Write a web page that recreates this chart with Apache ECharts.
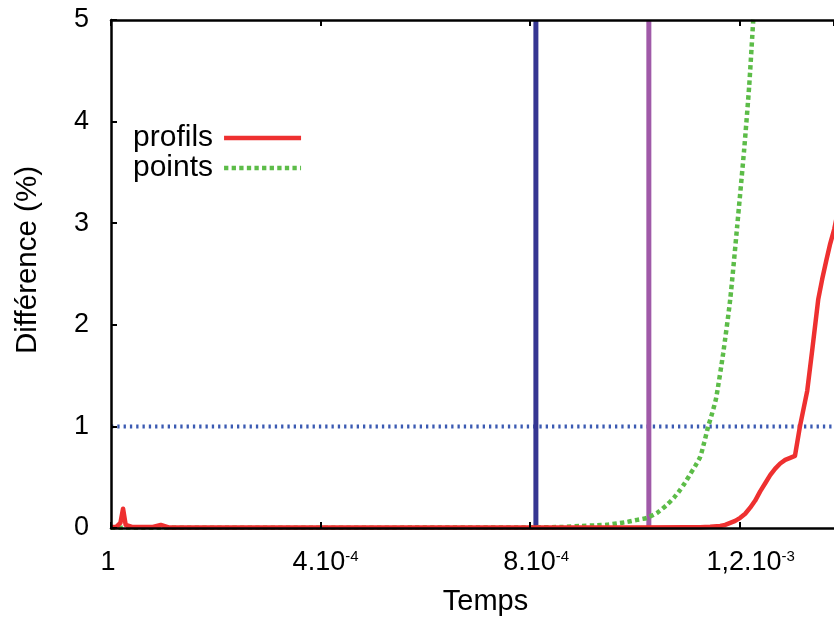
<!DOCTYPE html>
<html>
<head>
<meta charset="utf-8">
<script src="https://cdn.jsdelivr.net/npm/echarts@6/dist/echarts.min.js"></script>
<style>html,body{margin:0;padding:0;background:#fff}#c{width:834px;height:621px}</style>
</head>
<body>
<div id="c"></div>
<script>
// ---- data ----
const xTicks = [0, 4e-4, 8e-4, 1.2e-3];
const xTickLabels = ['1', '4.10{sup|-4}', '8.10{sup|-4}', '1,2.10{sup|-3}'];
const yTicks = [0, 1, 2, 3, 4, 5];

const profilsX = [0, 1.0e-5, 1.8e-5, 2.3e-5, 2.8e-5, 4e-5, 8e-5, 9.5e-5, 1.1e-4, 2e-4, 4e-4, 6e-4, 8e-4, 1.0e-3, 1.1e-3,
  1.1246e-3, 1.1437e-3, 1.1628e-3, 1.1723e-3, 1.1819e-3, 1.1914e-3, 1.2010e-3, 1.2105e-3, 1.2200e-3, 1.2296e-3,
  1.2391e-3, 1.2487e-3, 1.2582e-3, 1.2678e-3, 1.2773e-3, 1.2869e-3, 1.2964e-3, 1.3055e-3, 1.3150e-3, 1.3289e-3,
  1.3384e-3, 1.3499e-3, 1.3575e-3, 1.3652e-3, 1.3728e-3, 1.3804e-3, 1.3950e-3];
const profilsY = [0.01, 0.01, 0.05, 0.19, 0.03, 0.01, 0.01, 0.03, 0.005, 0.005, 0.005, 0.005, 0.005, 0.006, 0.007,
  0.008, 0.012, 0.02, 0.03, 0.05, 0.07, 0.1, 0.14, 0.2, 0.27,
  0.36, 0.44, 0.52, 0.585, 0.635, 0.67, 0.69, 0.71, 1.0, 1.35,
  1.75, 2.25, 2.45, 2.63, 2.8, 2.94, 3.3];

const pointsX = [0, 2e-4, 4e-4, 6e-4, 8e-4, 0.8630e-3, 0.8955e-3, 0.9241e-3, 0.9470e-3, 0.9661e-3, 0.9852e-3, 1.0043e-3,
  1.0234e-3, 1.0425e-3, 1.0616e-3, 1.0749e-3, 1.0864e-3, 1.0950e-3, 1.1055e-3, 1.1150e-3, 1.1246e-3, 1.1322e-3,
  1.1399e-3, 1.1475e-3, 1.1551e-3, 1.1685e-3, 1.1819e-3, 1.1952e-3, 1.2086e-3, 1.2181e-3, 1.2258e-3, 1.2391e-3];
const pointsY = [0.003, 0.003, 0.003, 0.004, 0.006, 0.01, 0.02, 0.026, 0.032, 0.045, 0.06, 0.08,
  0.1, 0.15, 0.23, 0.3, 0.375, 0.44, 0.53, 0.61, 0.7, 0.84,
  1.0, 1.13, 1.28, 1.72, 2.25, 2.97, 3.73, 4.35, 4.99, 6.0];

const seuil = 1;                 // horizontal dotted line level
const vLineBlue = 8.11e-4;       // vertical blue line
const vLinePurple = 1.0266e-3;   // vertical purple line

const X_MIN = 0, X_MAX = 1.38e-3, X_INT = 4e-4;
const Y_MIN = 0, Y_MAX = 5;

const zip = (a, b) => a.map((v, i) => [v, b[i]]);

const chart = echarts.init(document.getElementById('c'), null, {renderer: 'canvas'});
const FONT = 'Liberation Sans, Arial, Helvetica, sans-serif';

// horizontal nudges (px) of tick labels, style only
const labelShift = [-3, 5, 6, 11];
function xLabel(v) {
  const i = xTicks.findIndex(t => Math.abs(t - v) < 1e-9);
  if (i < 0) return '';
  const s = labelShift[i];
  if (s > 0) return '{p' + s + '|}' + xTickLabels[i];
  if (s < 0) return xTickLabels[i] + '{p' + (-s) + '|}';
  return xTickLabels[i];
}
const rich = {sup: {fontFamily: FONT, fontSize: 15, color: '#000', padding: [0, 0, 12, 0]}};
[3, 5, 6, 11].forEach(s => { rich['p' + s] = {width: 2 * s}; });

// legend icons
const LW = 77, LH = 4.5;
const solidIcon = 'path://M0,0H' + LW + 'V' + LH + 'H0Z';
let dotPath = '';
for (let x = 0; x < LW; x += 7.6) {
  const w = Math.min(4.3, LW - x);
  dotPath += 'M' + x.toFixed(2) + ',0h' + w.toFixed(2) + 'v' + LH + 'h-' + w.toFixed(2) + 'Z';
}
const dottedIcon = 'path://' + dotPath;

chart.setOption({
  animation: false,
  backgroundColor: '#fff',
  grid: {left: 111, right: 0, top: 20, bottom: 91, containLabel: false},
  legend: {
    data: [{name: 'profils', icon: solidIcon}, {name: 'points', icon: dottedIcon}],
    orient: 'vertical',
    left: 128, top: 118,
    align: 'right',
    itemWidth: LW, itemHeight: LH, itemGap: 0,
    itemStyle: {borderWidth: 0},
    textStyle: {fontFamily: FONT, fontSize: 30, lineHeight: 29, color: '#000', padding: [0, 6, 0, 0]}
  },
  xAxis: [{
    type: 'value', min: X_MIN, max: X_MAX, interval: X_INT,
    name: 'Temps', nameLocation: 'middle', nameGap: 59,
    nameTextStyle: {fontFamily: FONT, fontSize: 29, color: '#000', padding: [0, 0, 0, 26]},
    axisLine: {show: true, onZero: false, lineStyle: {color: '#000', width: 2.5}},
    axisTick: {show: true, inside: true, length: 6, lineStyle: {color: '#000', width: 2}},
    axisLabel: {
      formatter: xLabel, margin: 21, fontFamily: FONT, fontSize: 27, color: '#000',
      showMaxLabel: false, rich: rich
    },
    splitLine: {show: false}, z: 5
  }, {
    type: 'value', min: X_MIN, max: X_MAX, interval: X_INT, position: 'top',
    axisLine: {show: true, onZero: false, lineStyle: {color: '#000', width: 2.5}},
    axisTick: {show: true, inside: true, length: 6, lineStyle: {color: '#000', width: 2}},
    axisLabel: {show: false}, splitLine: {show: false}, z: 5
  }],
  yAxis: [{
    type: 'value', min: Y_MIN, max: Y_MAX, interval: 1,
    name: 'Différence (%)', nameLocation: 'middle', nameGap: 68,
    nameTextStyle: {fontFamily: FONT, fontSize: 29.5, color: '#000', padding: [0, 0, 0, 28]},
    axisLine: {show: true, onZero: false, lineStyle: {color: '#000', width: 2.5}},
    axisTick: {show: true, inside: true, length: 6, lineStyle: {color: '#000', width: 2}},
    axisLabel: {margin: 22, fontFamily: FONT, fontSize: 27, color: '#000'},
    splitLine: {show: false}, z: 5
  }],
  series: [
    {
      name: 'seuil', type: 'line', symbol: 'none', silent: true,
      data: [[X_MIN, seuil], [X_MAX, seuil]],
      lineStyle: {color: '#3b5ab2', width: 4, type: [2.3, 4]}, z: 1
    },
    {
      name: 'vbleu', type: 'line', symbol: 'none', silent: true,
      data: [[vLineBlue, Y_MIN], [vLineBlue, Y_MAX]],
      lineStyle: {color: '#363692', width: 5}, z: 1
    },
    {
      name: 'vviolet', type: 'line', symbol: 'none', silent: true,
      data: [[vLinePurple, Y_MIN], [vLinePurple, Y_MAX]],
      lineStyle: {color: '#a05aa8', width: 5}, z: 1
    },
    {
      name: 'points', type: 'line', symbol: 'none', clip: true, smooth: 0.2,
      data: zip(pointsX, pointsY),
      color: '#5cbc48',
      lineStyle: {color: '#5cbc48', width: 4.5, type: [4.3, 3.3]}, z: 2
    },
    {
      name: 'profils', type: 'line', symbol: 'none', clip: true,
      data: zip(profilsX, profilsY),
      color: '#ee3030',
      lineStyle: {color: '#ee3030', width: 4.5, join: 'round'}, z: 3
    }
  ]
});
</script>
</body>
</html>
